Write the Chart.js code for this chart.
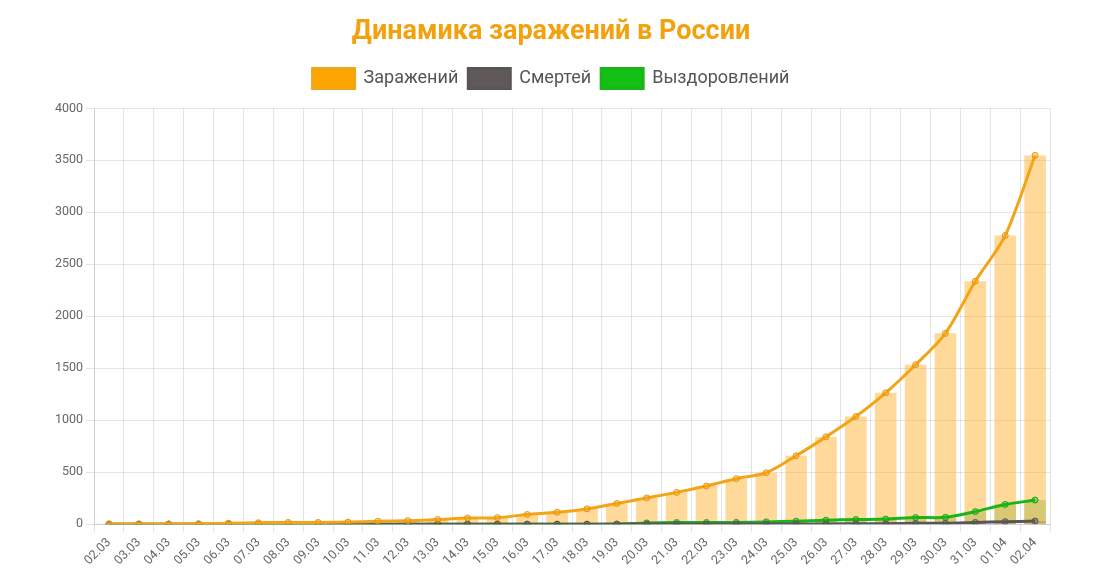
<!DOCTYPE html>
<html><head><meta charset="utf-8">
<script src="https://cdn.jsdelivr.net/npm/chart.js@4/dist/chart.umd.min.js"></script>
<style>html,body{margin:0;padding:0;background:#fff}#wrap{width:1094px;height:575px}</style>
</head><body><div id="wrap"><canvas id="c" width="1094" height="575"></canvas></div>
<script>
const labels = ["02.03","03.03","04.03","05.03","06.03","07.03","08.03","09.03","10.03","11.03","12.03","13.03","14.03","15.03","16.03","17.03","18.03","19.03","20.03","21.03","22.03","23.03","24.03","25.03","26.03","27.03","28.03","29.03","30.03","31.03","01.04","02.04"];
const infected = [3,3,3,4,10,14,17,17,20,28,34,45,59,63,93,114,147,199,253,306,367,438,495,658,840,1036,1264,1534,1836,2337,2777,3548];
const deaths = [0,0,0,0,0,0,0,0,0,0,0,0,0,0,0,0,0,1,1,1,1,1,1,3,3,4,4,8,9,17,24,30];
const recovered = [0,0,0,0,0,0,0,0,0,0,0,0,0,0,0,0,0,0,12,16,16,17,22,29,38,45,49,64,66,121,190,232];
const yTicks = [0,500,1000,1500,2000,2500,3000,3500,4000];

Chart.defaults.font.family = "Roboto, 'Noto Sans', sans-serif";
Chart.defaults.color = "#666";

const legendSpace = {
  id:'legendSpace',
  beforeInit(chart){
    const orig = chart.legend.fit;
    chart.legend.fit = function(){ orig.bind(chart.legend)(); this.height += 10; };
  }
};

new Chart(document.getElementById('c'), {
  data: {
    labels: labels,
    datasets: [
      {type:'line', label:'Заражений', data:infected, borderColor:'#f2a516', backgroundColor:'#ffa500', borderWidth:3, pointRadius:3, pointBorderWidth:1, pointBackgroundColor:'rgba(255,165,0,0.4)', pointBorderColor:'#e0951a', tension:0.3, order:1},
      {type:'line', label:'Смертей', data:deaths, borderColor:'#5a5656', backgroundColor:'#5f5959', borderWidth:3, pointRadius:3, pointBorderWidth:1, pointBackgroundColor:'rgba(90,86,86,0.5)', pointBorderColor:'#5a5656', tension:0.3, order:2},
      {type:'line', label:'Выздоровлений', data:recovered, borderColor:'#19b519', backgroundColor:'#13c013', borderWidth:3, pointRadius:3, pointBorderWidth:1, pointBackgroundColor:'rgba(19,192,19,0.4)', pointBorderColor:'#19a519', tension:0.3, order:3},
      {type:'bar', label:'_b1', data:infected, backgroundColor:'rgba(255,170,30,0.45)', grouped:false, barPercentage:0.85, categoryPercentage:0.85, order:4},
      {type:'bar', label:'_b2', data:deaths, backgroundColor:'rgba(90,86,86,0.35)', grouped:false, barPercentage:0.85, categoryPercentage:0.85, order:5},
      {type:'bar', label:'_b3', data:recovered, backgroundColor:'rgba(19,150,19,0.3)', grouped:false, barPercentage:0.85, categoryPercentage:0.85, order:6}
    ]
  },
  plugins:[legendSpace],
  options: {
    responsive:false, animation:false,
    layout:{padding:{left:52, right:44, top:12, bottom:4}},
    plugins:{
      title:{display:true, text:'Динамика заражений в России', color:'#f2a20f', font:{size:27, weight:'bold'}, padding:{top:4, bottom:10}},
      legend:{labels:{boxWidth:42, boxHeight:20, font:{size:18}, color:'#555', filter:(it)=>!it.text.startsWith('_')}},
      tooltip:{enabled:false}
    },
    scales:{
      x:{offset:true, grid:{color:'rgba(0,0,0,0.1)', offset:true}, ticks:{maxRotation:45, minRotation:45, font:{size:12.5}, color:'#666', autoSkip:false}},
      y:{min:0, max:4000, afterBuildTicks:(ax)=>{ax.ticks = yTicks.map(v=>({value:v}));}, grid:{color:'rgba(0,0,0,0.1)'}, ticks:{font:{size:12.5}, color:'#666', callback:(v)=>String(v)}}
    }
  }
});
</script></body></html>
